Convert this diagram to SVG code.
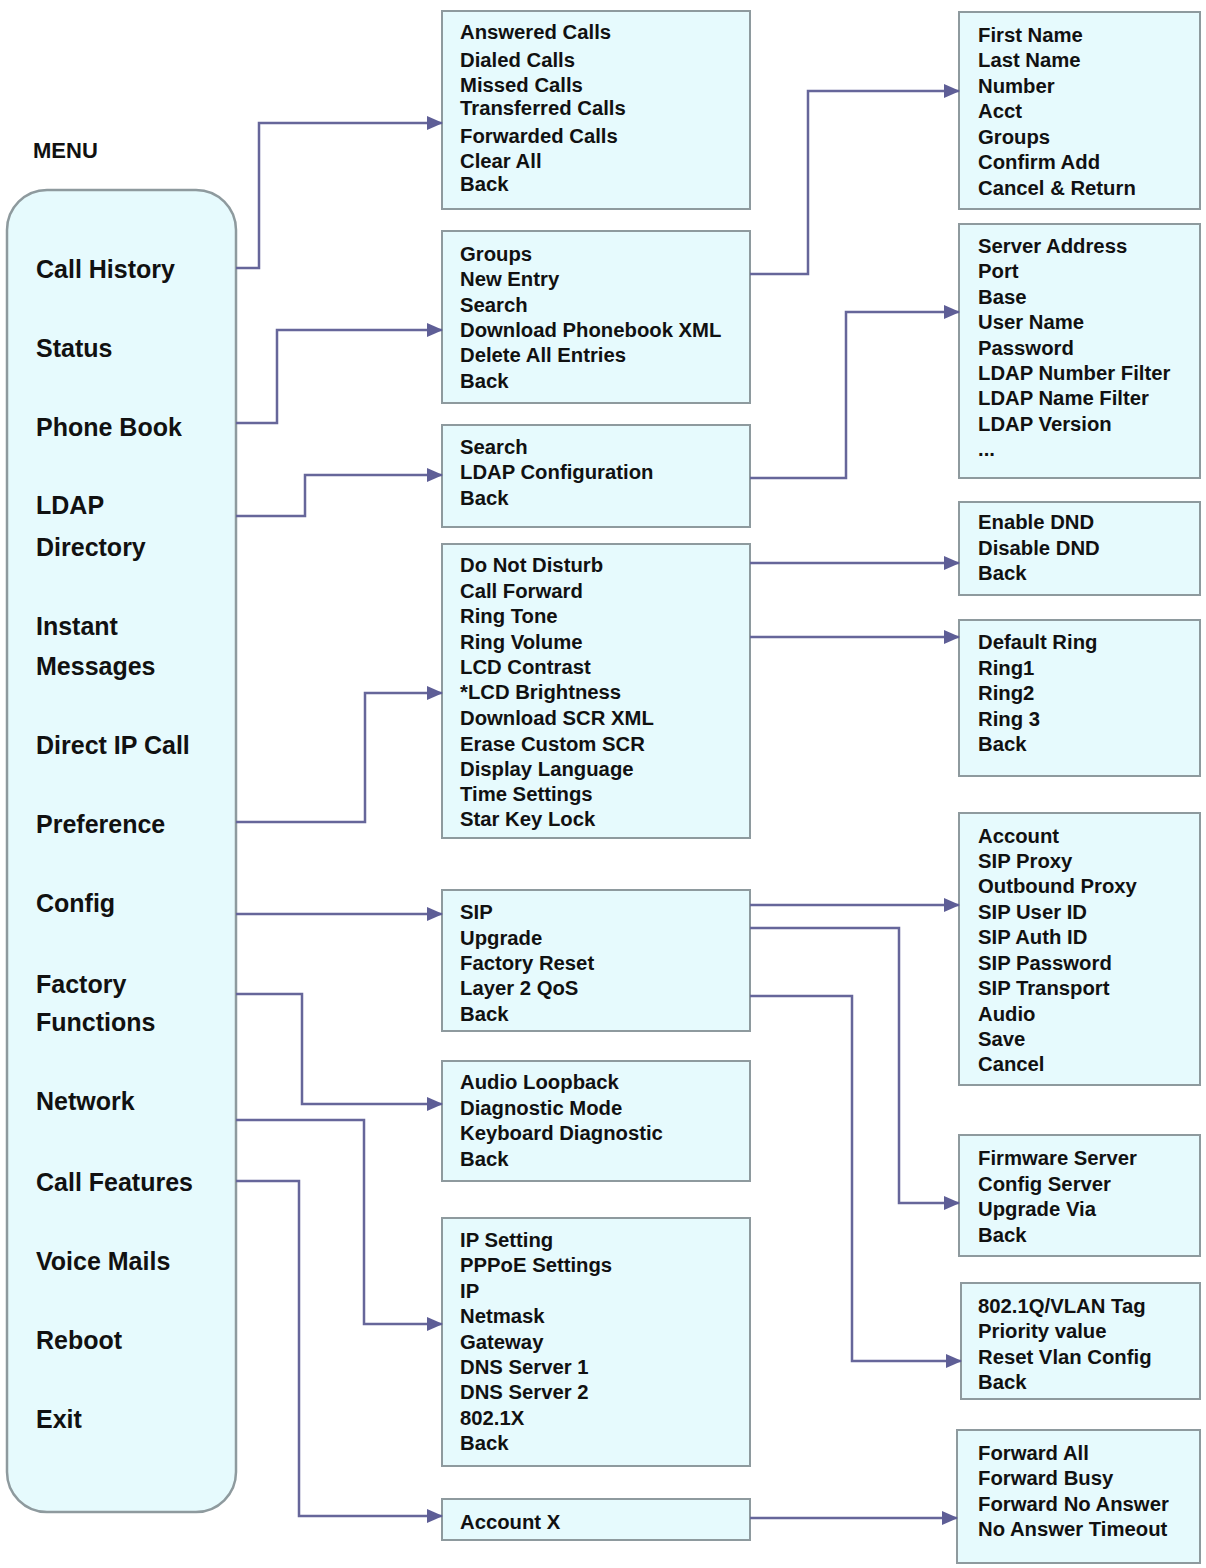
<svg xmlns="http://www.w3.org/2000/svg" width="1206" height="1568" viewBox="0 0 1206 1568">
<defs>
<style>
.box{fill:#e6fafd;stroke:#8e9a9e;stroke-width:2}
.main{fill:#e6fafd;stroke:#8e9a9e;stroke-width:2.5}
.t{font-family:"Liberation Sans",Arial,sans-serif;font-weight:bold;font-size:20.3px;fill:#111}
.m{font-family:"Liberation Sans",Arial,sans-serif;font-weight:bold;font-size:25px;fill:#111}
.hd{font-family:"Liberation Sans",Arial,sans-serif;font-weight:bold;font-size:22px;fill:#111}
.c{fill:none;stroke:#66669a;stroke-width:2.5}
</style>
<marker id="ah" markerWidth="16" markerHeight="14" refX="15" refY="7" orient="auto" markerUnits="userSpaceOnUse">
<path d="M0,0 L16,7 L0,14 z" fill="#5e5e96"/>
</marker>
</defs>
<rect width="1206" height="1568" fill="#fff"/>

<text class="hd" x="33" y="158">MENU</text>

<g id="menu">
<rect class="main" x="7" y="190" width="229" height="1322" rx="40" ry="40"/>
<text class="m" x="36" y="278">Call History</text>
<text class="m" x="36" y="357">Status</text>
<text class="m" x="36" y="436">Phone Book</text>
<text class="m" x="36" y="514">LDAP</text>
<text class="m" x="36" y="556">Directory</text>
<text class="m" x="36" y="635">Instant</text>
<text class="m" x="36" y="675">Messages</text>
<text class="m" x="36" y="754">Direct IP Call</text>
<text class="m" x="36" y="833">Preference</text>
<text class="m" x="36" y="912">Config</text>
<text class="m" x="36" y="993">Factory</text>
<text class="m" x="36" y="1031">Functions</text>
<text class="m" x="36" y="1110">Network</text>
<text class="m" x="36" y="1191">Call Features</text>
<text class="m" x="36" y="1270">Voice Mails</text>
<text class="m" x="36" y="1349">Reboot</text>
<text class="m" x="36" y="1428">Exit</text>
</g>

<g id="callhistory">
<rect class="box" x="442" y="11" width="308" height="198"/>
<text class="t" x="460" y="39">Answered Calls</text>
<text class="t" x="460" y="67">Dialed Calls</text>
<text class="t" x="460" y="92">Missed Calls</text>
<text class="t" x="460" y="115">Transferred Calls</text>
<text class="t" x="460" y="143">Forwarded Calls</text>
<text class="t" x="460" y="168">Clear All</text>
<text class="t" x="460" y="191">Back</text>
</g>

<g id="phonebook">
<rect class="box" x="442" y="231" width="308" height="172"/>
<text class="t" x="460" y="261">Groups</text>
<text class="t" x="460" y="286">New Entry</text>
<text class="t" x="460" y="312">Search</text>
<text class="t" x="460" y="337">Download Phonebook XML</text>
<text class="t" x="460" y="362">Delete All Entries</text>
<text class="t" x="460" y="388">Back</text>
</g>

<g id="ldap">
<rect class="box" x="442" y="425" width="308" height="102"/>
<text class="t" x="460" y="454">Search</text>
<text class="t" x="460" y="479">LDAP Configuration</text>
<text class="t" x="460" y="505">Back</text>
</g>

<g id="preference">
<rect class="box" x="442" y="544" width="308" height="294"/>
<text class="t" x="460" y="572">Do Not Disturb</text>
<text class="t" x="460" y="598">Call Forward</text>
<text class="t" x="460" y="623">Ring Tone</text>
<text class="t" x="460" y="649">Ring Volume</text>
<text class="t" x="460" y="674">LCD Contrast</text>
<text class="t" x="460" y="699">*LCD Brightness</text>
<text class="t" x="460" y="725">Download SCR XML</text>
<text class="t" x="460" y="751">Erase Custom SCR</text>
<text class="t" x="460" y="776">Display Language</text>
<text class="t" x="460" y="801">Time Settings</text>
<text class="t" x="460" y="826">Star Key Lock</text>
</g>

<g id="config">
<rect class="box" x="442" y="890" width="308" height="141"/>
<text class="t" x="460" y="919">SIP</text>
<text class="t" x="460" y="945">Upgrade</text>
<text class="t" x="460" y="970">Factory Reset</text>
<text class="t" x="460" y="995">Layer 2 QoS</text>
<text class="t" x="460" y="1021">Back</text>
</g>

<g id="factory">
<rect class="box" x="442" y="1061" width="308" height="120"/>
<text class="t" x="460" y="1089">Audio Loopback</text>
<text class="t" x="460" y="1115">Diagnostic Mode</text>
<text class="t" x="460" y="1140">Keyboard Diagnostic</text>
<text class="t" x="460" y="1166">Back</text>
</g>

<g id="network">
<rect class="box" x="442" y="1218" width="308" height="248"/>
<text class="t" x="460" y="1247">IP Setting</text>
<text class="t" x="460" y="1272">PPPoE Settings</text>
<text class="t" x="460" y="1298">IP</text>
<text class="t" x="460" y="1323">Netmask</text>
<text class="t" x="460" y="1349">Gateway</text>
<text class="t" x="460" y="1374">DNS Server 1</text>
<text class="t" x="460" y="1399">DNS Server 2</text>
<text class="t" x="460" y="1425">802.1X</text>
<text class="t" x="460" y="1450">Back</text>
</g>

<g id="callfeatures">
<rect class="box" x="442" y="1499" width="308" height="41"/>
<text class="t" x="460" y="1529">Account X</text>
</g>

<g id="newentry">
<rect class="box" x="959" y="12" width="241" height="197"/>
<text class="t" x="978" y="42">First Name</text>
<text class="t" x="978" y="67">Last Name</text>
<text class="t" x="978" y="93">Number</text>
<text class="t" x="978" y="118">Acct</text>
<text class="t" x="978" y="144">Groups</text>
<text class="t" x="978" y="169">Confirm Add</text>
<text class="t" x="978" y="195">Cancel &amp; Return</text>
</g>

<g id="ldapconfig">
<rect class="box" x="959" y="224" width="241" height="254"/>
<text class="t" x="978" y="253">Server Address</text>
<text class="t" x="978" y="278">Port</text>
<text class="t" x="978" y="304">Base</text>
<text class="t" x="978" y="329">User Name</text>
<text class="t" x="978" y="355">Password</text>
<text class="t" x="978" y="380">LDAP Number Filter</text>
<text class="t" x="978" y="405">LDAP Name Filter</text>
<text class="t" x="978" y="431">LDAP Version</text>
<text class="t" x="978" y="456">...</text>
</g>

<g id="dnd">
<rect class="box" x="959" y="502" width="241" height="93"/>
<text class="t" x="978" y="529">Enable DND</text>
<text class="t" x="978" y="555">Disable DND</text>
<text class="t" x="978" y="580">Back</text>
</g>

<g id="ringtone">
<rect class="box" x="959" y="620" width="241" height="156"/>
<text class="t" x="978" y="649">Default Ring</text>
<text class="t" x="978" y="675">Ring1</text>
<text class="t" x="978" y="700">Ring2</text>
<text class="t" x="978" y="726">Ring 3</text>
<text class="t" x="978" y="751">Back</text>
</g>

<g id="sip">
<rect class="box" x="959" y="813" width="241" height="272"/>
<text class="t" x="978" y="843">Account</text>
<text class="t" x="978" y="868">SIP Proxy</text>
<text class="t" x="978" y="893">Outbound Proxy</text>
<text class="t" x="978" y="919">SIP User ID</text>
<text class="t" x="978" y="944">SIP Auth ID</text>
<text class="t" x="978" y="970">SIP Password</text>
<text class="t" x="978" y="995">SIP Transport</text>
<text class="t" x="978" y="1021">Audio</text>
<text class="t" x="978" y="1046">Save</text>
<text class="t" x="978" y="1071">Cancel</text>
</g>

<g id="upgrade">
<rect class="box" x="959" y="1135" width="241" height="121"/>
<text class="t" x="978" y="1165">Firmware Server</text>
<text class="t" x="978" y="1191">Config Server</text>
<text class="t" x="978" y="1216">Upgrade Via</text>
<text class="t" x="978" y="1242">Back</text>
</g>

<g id="qos">
<rect class="box" x="961" y="1283" width="239" height="116"/>
<text class="t" x="978" y="1313">802.1Q/VLAN Tag</text>
<text class="t" x="978" y="1338">Priority value</text>
<text class="t" x="978" y="1364">Reset Vlan Config</text>
<text class="t" x="978" y="1389">Back</text>
</g>

<g id="account">
<rect class="box" x="957" y="1430" width="243" height="133"/>
<text class="t" x="978" y="1460">Forward All</text>
<text class="t" x="978" y="1485">Forward Busy</text>
<text class="t" x="978" y="1511">Forward No Answer</text>
<text class="t" x="978" y="1536">No Answer Timeout</text>
</g>

<g id="connectors">
<path class="c" marker-end="url(#ah)" d="M236,268 H259 V123 H442"/>
<path class="c" marker-end="url(#ah)" d="M236,423 H277 V330 H442"/>
<path class="c" marker-end="url(#ah)" d="M236,516 H305 V475 H442"/>
<path class="c" marker-end="url(#ah)" d="M236,822 H365 V693 H442"/>
<path class="c" marker-end="url(#ah)" d="M236,914 H442"/>
<path class="c" marker-end="url(#ah)" d="M236,994 H302 V1104 H442"/>
<path class="c" marker-end="url(#ah)" d="M236,1120 H364 V1324 H442"/>
<path class="c" marker-end="url(#ah)" d="M236,1181 H299 V1516 H442"/>
<path class="c" marker-end="url(#ah)" d="M750,274 H808 V91 H959"/>
<path class="c" marker-end="url(#ah)" d="M750,478 H846 V312 H959"/>
<path class="c" marker-end="url(#ah)" d="M750,563 H959"/>
<path class="c" marker-end="url(#ah)" d="M750,637 H959"/>
<path class="c" marker-end="url(#ah)" d="M750,905 H959"/>
<path class="c" marker-end="url(#ah)" d="M750,928 H899 V1203 H959"/>
<path class="c" marker-end="url(#ah)" d="M750,996 H852 V1361 H961"/>
<path class="c" marker-end="url(#ah)" d="M750,1518 H957"/>
</g>
</svg>
